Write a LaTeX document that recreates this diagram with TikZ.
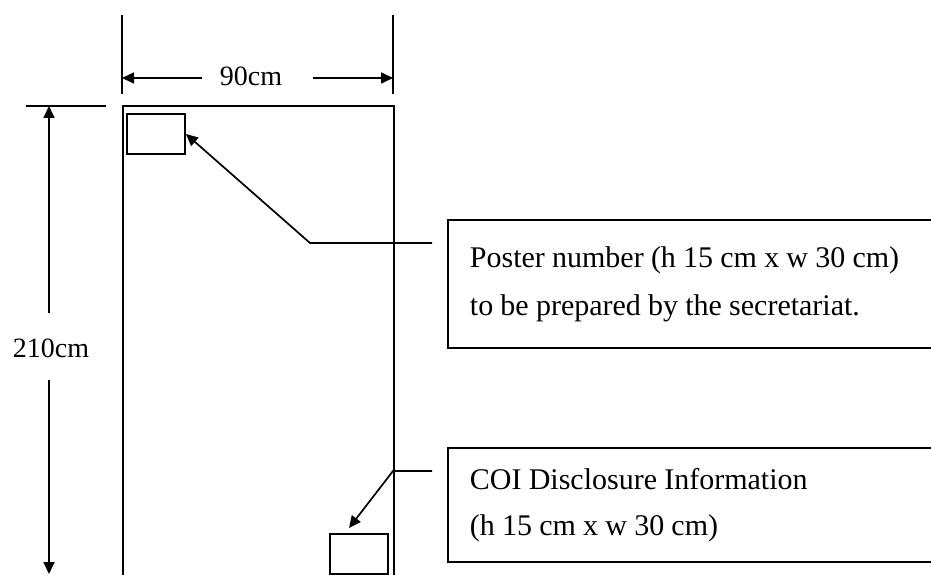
\documentclass[tikz,border=0pt]{standalone}
\usepackage{fontspec}
\setmainfont{Liberation Serif}
\usetikzlibrary{arrows.meta}
\newcommand\tightspacing{\spaceskip=0.24em\relax}
\tikzset{
  boxline/.style={draw=black, line width=1.9pt},
  dimline/.style={draw=black, line width=1.7pt},
  arr/.style={dimline, -{Triangle[length=12pt,width=11pt]}},
  callout/.style={boxline, anchor=north west, align=left, text width=470pt, inner xsep=22pt, inner ysep=0pt,
     font=\fontsize{30}{48}\selectfont},
  dimtext/.style={font=\fontsize{28}{32}\selectfont, inner sep=0pt},
  smallbox/.style={boxline, anchor=north west, minimum width=58pt, minimum height=40pt, inner sep=0pt}
}
\begin{document}
\begin{tikzpicture}[x=1pt,y=-1pt]
\useasboundingbox (0,0) rectangle (931,575);
\clip (0,0) rectangle (931,575);
\fill[white] (0,0) rectangle (931,575);
% board
\node[boxline, anchor=north west, minimum width=271pt, minimum height=620pt, inner sep=0pt] (board) at (122,105) {};
\node[smallbox] (numbox) at (126,113) {};
\node[smallbox] (coibox) at (329,533) {};
% callouts
\node[callout, minimum height=128pt] (poster) at (447,219) {\tightspacing Poster number (h 15 cm x w 30 cm)\\\tightspacing to be prepared by the secretariat.};
\node[callout, minimum height=114pt, font=\fontsize{30}{46}\selectfont] (coi) at (447,447) {\tightspacing COI Disclosure Information\\\tightspacing (h 15 cm x w 30 cm)};
% connectors
\coordinate (p1) at (432,243);
\coordinate (p2) at (310,243);
\coordinate (q1) at (432,471);
\coordinate (q2) at (393,471);
\coordinate (q3) at (349,528);
\draw[arr] (p1) -- (p2) -- (numbox.east);
\draw[arr] (q1) -- (q2) -- (q3);
% top dimension
\coordinate (tl1) at (122,15); \coordinate (tl2) at (122,94);
\coordinate (tr1) at (393,15); \coordinate (tr2) at (393,94);
\draw[dimline] (tl1) -- (tl2);
\draw[dimline] (tr1) -- (tr2);
\node[dimtext, anchor=base] (w) at (251,86) {90cm};
\coordinate (wa) at (202,78); \coordinate (wb) at (122,78);
\coordinate (wc) at (313,78); \coordinate (wd) at (393,78);
\draw[arr] (wa) -- (wb);
\draw[arr] (wc) -- (wd);
% left dimension
\coordinate (h1) at (26,106); \coordinate (h2) at (106,106);
\draw[dimline] (h1) -- (h2);
\node[dimtext, anchor=base] (h) at (51,357) {210cm};
\coordinate (ha) at (49,313); \coordinate (hb) at (49,106);
\coordinate (hc) at (49,380); \coordinate (hd) at (49,574);
\draw[arr] (ha) -- (hb);
\draw[arr] (hc) -- (hd);
\end{tikzpicture}
\end{document}
